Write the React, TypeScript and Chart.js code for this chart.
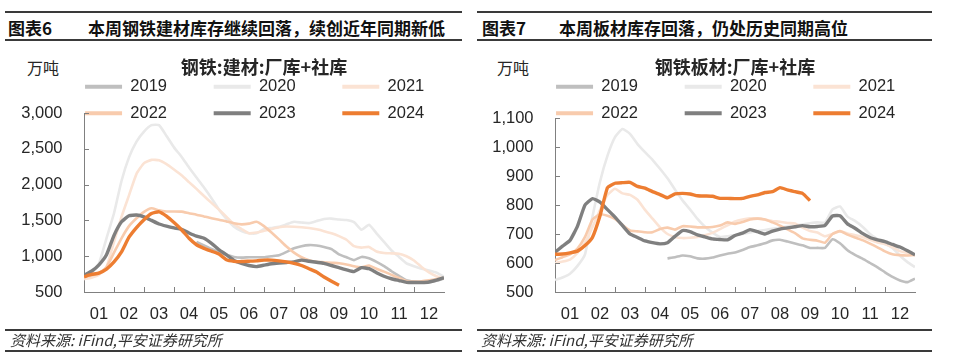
import React, { useEffect, useRef } from 'react';
import { Chart, registerables } from 'chart.js';

Chart.register(...registerables);

const LATIN = "'Liberation Sans', Arial, 'Noto Sans CJK SC', sans-serif";
const CJK = "'Noto Sans CJK SC', 'Liberation Sans', sans-serif";
const AXIS = '#808080';
const TXT = '#262626';

// x positions: 4 steps per month, 0..48
const monthLabels = ['01', '02', '03', '04', '05', '06', '07', '08', '09', '10', '11', '12'];
const yearLabels = ['2019', '2020', '2021', '2022', '2023', '2024'];
const yearColors = ['#bfbfbf', '#e9e9e9', '#fbe3d4', '#f8cbad', '#7f7f7f', '#ed7d31'];
const yearWidths = [2.6, 2.6, 2.6, 2.6, 3.4, 3.4];

const N = null;

// 钢铁:建材:厂库+社库 (万吨)
const b2019 = [N, N, N, N, N, N, N, N, N, N, N, N, N, N, N,
  1200, 1150, 1100, 1060, 1020, 990, 980, 985, 985, 985, 1000, 1013, 1060, 1110, 1140, 1155, 1150, 1130, 1100, 1025,
  985, 945, 990, 970, 920, 860, 790, 725, 665, 645, 633, 638, 658, 689];
const b2020 = [700, 760, 900, 1250, 1600, 2050, 2380, 2600, 2740, 2830, 2830, 2680, 2520, 2390, 2240, 2100, 1960, 1810,
  1650, 1520, 1410, 1350, 1320, 1320, 1380, 1395, 1410, 1445, 1480, 1470, 1462, 1490, 1520, 1525, 1512, 1505, 1475,
  1370, 1440, 1320, 1200, 1080, 990, 900, 860, 825, 800, 770, 713];
const b2021 = [680, 700, 740, 850, 1200, 1550, 1850, 2150, 2300, 2345, 2340, 2285, 2210, 2130, 2035, 1940, 1840, 1745,
  1650, 1550, 1445, 1380, 1320, 1330, 1355, 1380, 1405, 1415, 1412, 1405, 1395, 1375, 1350, 1320, 1280, 1230, 1140,
  1120, 1130, 1065, 1045, 1040, 1035, 1000, 940, 850, 775, 720, 685];
const b2022 = [713, 730, 770, 850, 1050, 1250, 1420, 1530, 1620, 1670, 1640, 1625, 1625, 1622, 1600, 1580, 1555, 1530,
  1510, 1485, 1460, 1445, 1455, 1480, 1420, 1330, 1235, 1135, 1050, 985, 945, 922, 916, 908, 902, 885, 860, 845, 870,
  825, 785, 740, 695, 655, 647, 650, 663, 680, 696];
const b2023 = [735, 790, 880, 1020, 1290, 1480, 1565, 1575, 1550, 1500, 1450, 1420, 1395, 1375, 1325, 1280, 1250, 1180,
  1090, 1020, 940, 900, 870, 855, 875, 895, 905, 912, 920, 945, 930, 915, 900, 870, 840, 810, 785, 840, 825, 770, 720,
  685, 660, 635, 632, 633, 640, 665, 700];
const b2024 = [713, 745, 765, 820, 920, 1060, 1265, 1400, 1510, 1595, 1620, 1560, 1470, 1370, 1250, 1160, 1110, 1070,
  1030, 950, 928, 925, 930, 935, 945, 945, 935, 920, 900, 870, 825, 780, 710, 650, 595];

// 钢铁板材:厂库+社库 (万吨)
const p2019 = [N, N, N, N, N, N, N, N, N, N, N, N, N, N, N,
  616, 620, 626, 623, 616, 615, 619, 626, 632, 636, 645, 655, 661, 668, 678, 680, 674, 667, 661, 652, 652, 652, 682,
  668, 644, 628, 615, 600, 585, 568, 552, 540, 534, 546];
const p2020 = [541, 550, 563, 590, 630, 760, 880, 970, 1034, 1062, 1045, 1010, 982, 956, 925, 892, 853, 816, 785, 752,
  725, 705, 690, 692, 696, 700, 705, 710, 714, 718, 722, 726, 729, 733, 737, 740, 740, 785, 795, 760, 745, 725, 700,
  682, 668, 652, 625, 603, 586];
const p2021 = [600, 605, 612, 635, 670, 724, 783, 835, 856, 840, 835, 818, 783, 753, 723, 700, 690, 686, 687, 690, 696,
  704, 717, 730, 743, 750, 754, 754, 749, 745, 742, 738, 736, 722, 710, 705, 692, 700, 710, 702, 696, 690, 680, 671,
  665, 655, 641, 634, 626];
const p2022 = [610, 620, 630, 650, 690, 750, 768, 763, 752, 731, 712, 709, 706, 706, 717, 722, 715, 727, 726, 723, 723,
  724, 729, 740, 735, 741, 750, 753, 750, 740, 729, 716, 703, 685, 680, 677, 670, 700, 710, 698, 688, 679, 667, 654,
  640, 630, 627, 626, 628];
const p2023 = [637, 658, 678, 727, 800, 822, 810, 784, 758, 729, 700, 688, 676, 670, 666, 670, 692, 712, 708, 697, 690,
  683, 681, 680, 695, 703, 715, 708, 700, 710, 717, 721, 725, 729, 725, 726, 730, 762, 763, 735, 720, 702, 688, 680,
  674, 664, 655, 642, 628];
const p2024 = [630, 631, 635, 641, 660, 689, 763, 860, 875, 877, 878, 864, 858, 846, 836, 825, 838, 840, 838, 832, 831,
  830, 823, 823, 822, 823, 830, 835, 843, 846, 860, 852, 846, 840, 815];

const buildingTicks = [500, 1000, 1500, 2000, 2500, 3000];
const buildingTickLabels = ['500', '1,000', '1,500', '2,000', '2,500', '3,000'];
const plateTicks = [500, 600, 700, 800, 900, 1000, 1100];
const plateTickLabels = ['500', '600', '700', '800', '900', '1,000', '1,100'];

const innerTicks = {
  id: 'innerTicks',
  afterLayout(chart: any) {
    // let the legend (drawn clipped to its box) overlap the top of the plot
    const l = chart.legend;
    if (l) {
      l.bottom = l.top + 90;
      l.height = 90;
    }
  },
  afterDraw(chart: any) {
    const { ctx, chartArea } = chart;
    const xs = chart.scales.x;
    const ys = chart.scales.y;
    ctx.save();
    ctx.strokeStyle = AXIS;
    ctx.lineWidth = 1;
    ctx.beginPath();
    for (let k = 1; k < 12; k++) {
      const px = Math.round(xs.getPixelForValue(k * 4)) + 0.5;
      ctx.moveTo(px, chartArea.bottom);
      ctx.lineTo(px, chartArea.bottom - 5);
    }
    ys.ticks.forEach((t: any) => {
      const py = Math.round(ys.getPixelForValue(t.value)) + 0.5;
      ctx.moveTo(chartArea.left, py);
      ctx.lineTo(chartArea.left + 5, py);
    });
    ctx.stroke();
    ctx.restore();
  },
};

type PanelProps = {
  left: number;
  width: number;
  title: string;
  series: (number | null)[][];
  ticks: number[];
  tickLabels: string[];
  padL: number;
  yWidth: number;
  rightGap: number;
  legendH: number;
};

function Panel({ left, width, title, series, ticks, tickLabels, padL, yWidth, rightGap, legendH }: PanelProps) {
  const ref = useRef<HTMLCanvasElement | null>(null);
  useEffect(() => {
    if (!ref.current) return;
    const datasets = yearLabels.map((yl, i) => ({
      label: yl,
      data: series[i].map((v, k) => ({ x: k, y: v })),
      borderColor: yearColors[i],
      backgroundColor: yearColors[i],
      borderWidth: yearWidths[i],
      pointRadius: 0,
      tension: 0.15,
      fill: false,
      order: 5 - i,
      yAxisID: 'y',
    }));
    const chart = new Chart(ref.current, {
      type: 'line',
      data: { datasets },
      plugins: [innerTicks],
      options: {
        animation: false,
        responsive: false,
        maintainAspectRatio: false,
        layout: { padding: { left: padL, right: 0, top: 0, bottom: 0 } },
        plugins: {
          tooltip: { enabled: false },
          title: {
            display: true,
            text: title,
            fullSize: false,
            align: 'center',
            color: TXT,
            font: { family: CJK, size: 18, weight: 'bold' },
            padding: { top: 6.7, bottom: -9.85 },
          },
          legend: {
            display: true,
            position: 'top',
            align: 'center',
            maxHeight: legendH,
            labels: {
              boxWidth: 37,
              boxHeight: 4,
              padding: 10,
              color: TXT,
              font: { family: LATIN, size: 16.5 },
              generateLabels: (c: any) =>
                c.data.datasets.map((ds: any, i: number) => ({
                  text: ds.label + '        ',
                  fillStyle: ds.borderColor,
                  strokeStyle: ds.borderColor,
                  lineWidth: 0,
                  hidden: false,
                  datasetIndex: i,
                  fontColor: TXT,
                })),
            },
          },
        },
        scales: {
          x: {
            type: 'linear',
            min: 0,
            max: 48,
            afterBuildTicks: (s: any) => {
              s.ticks = monthLabels.map((_, k) => ({ value: k * 4 + 2 }));
            },
            afterFit: (s: any) => {
              s.height = 38;
            },
            ticks: {
              autoSkip: false,
              maxRotation: 0,
              padding: 12.5,
              color: TXT,
              font: { family: LATIN, size: 16.5 },
              callback: (v: any) => monthLabels[Math.round((Number(v) - 2) / 4)],
            },
            grid: { display: false, drawTicks: false },
            border: { display: true, color: AXIS, width: 1 },
          },
          y: {
            type: 'linear',
            position: 'left',
            min: ticks[0],
            max: ticks[ticks.length - 1],
            afterBuildTicks: (s: any) => {
              s.ticks = ticks.map((v) => ({ value: v }));
            },
            afterFit: (s: any) => {
              s.width = yWidth;
            },
            ticks: {
              autoSkip: false,
              padding: 21.5,
              color: TXT,
              font: { family: LATIN, size: 16.5 },
              callback: (v: any) => tickLabels[ticks.indexOf(Number(v))],
            },
            grid: { display: false, drawTicks: false },
            border: { display: true, color: AXIS, width: 1 },
          },
          yR: {
            type: 'linear',
            position: 'right',
            display: true,
            min: 0,
            max: 1,
            afterFit: (s: any) => {
              s.width = rightGap;
            },
            ticks: { display: false },
            grid: { display: false, drawTicks: false },
            border: { display: false },
          },
        },
      } as any,
    });
    return () => chart.destroy();
  }, []);
  return (
    <canvas
      ref={ref}
      width={width}
      height={280}
      style={{ position: 'absolute', left, top: 50, width, height: 280 }}
    />
  );
}

const hdr: React.CSSProperties = {
  position: 'absolute',
  fontFamily: CJK,
  fontWeight: 'bold',
  fontSize: 17,
  lineHeight: '20px',
  color: '#111',
  whiteSpace: 'nowrap',
};
const unit: React.CSSProperties = {
  position: 'absolute',
  fontFamily: CJK,
  fontSize: 16,
  lineHeight: '20px',
  color: TXT,
  top: 57,
};
const foot: React.CSSProperties = {
  position: 'absolute',
  fontFamily: CJK,
  fontStyle: 'italic',
  fontSize: 15,
  lineHeight: '18px',
  color: '#333',
  top: 331,
  whiteSpace: 'nowrap',
};
const rule = (left: number, width: number, top: number): React.CSSProperties => ({
  position: 'absolute',
  left,
  width,
  top,
  height: 2,
  background: '#3a3a3a',
});

export default function App() {
  return (
    <div style={{ position: 'absolute', left: 0, top: 0, width: 960, height: 360, background: '#fff', overflow: 'hidden' }}>
      <div style={rule(5, 457, 11)} />
      <div style={rule(5, 457, 38.5)} />
      <div style={rule(477, 455, 11)} />
      <div style={rule(477, 455, 38.5)} />
      <div style={{ ...hdr, left: 8, top: 17.5 }}>图表6</div>
      <div style={{ ...hdr, left: 88, top: 17.5 }}>本周钢铁建材库存继续回落，续创近年同期新低</div>
      <div style={{ ...hdr, left: 482, top: 17.5 }}>图表7</div>
      <div style={{ ...hdr, left: 559, top: 17.5 }}>本周板材库存回落，仍处历史同期高位</div>
      <div style={{ ...unit, left: 27 }}>万吨</div>
      <div style={{ ...unit, left: 497 }}>万吨</div>
      <Panel
        left={0}
        width={531}
        title="钢铁:建材:厂库+社库"
        series={[b2019, b2020, b2021, b2022, b2023, b2024]}
        ticks={buildingTicks}
        tickLabels={buildingTickLabels}
        padL={15}
        yWidth={69}
        rightGap={87}
        legendH={44.55}
      />
      <Panel
        left={480}
        width={520}
        title="钢铁板材:厂库+社库"
        series={[p2019, p2020, p2021, p2022, p2023, p2024]}
        ticks={plateTicks}
        tickLabels={plateTickLabels}
        padL={8}
        yWidth={67}
        rightGap={85}
        legendH={49.55}
      />
      <div style={rule(5, 457, 328.5)} />
      <div style={rule(5, 457, 350)} />
      <div style={rule(477, 455, 328.5)} />
      <div style={rule(477, 455, 350)} />
      <div style={{ ...foot, left: 10 }}>资料来源: iFind,平安证券研究所</div>
      <div style={{ ...foot, left: 481 }}>资料来源: iFind,平安证券研究所</div>
    </div>
  );
}
